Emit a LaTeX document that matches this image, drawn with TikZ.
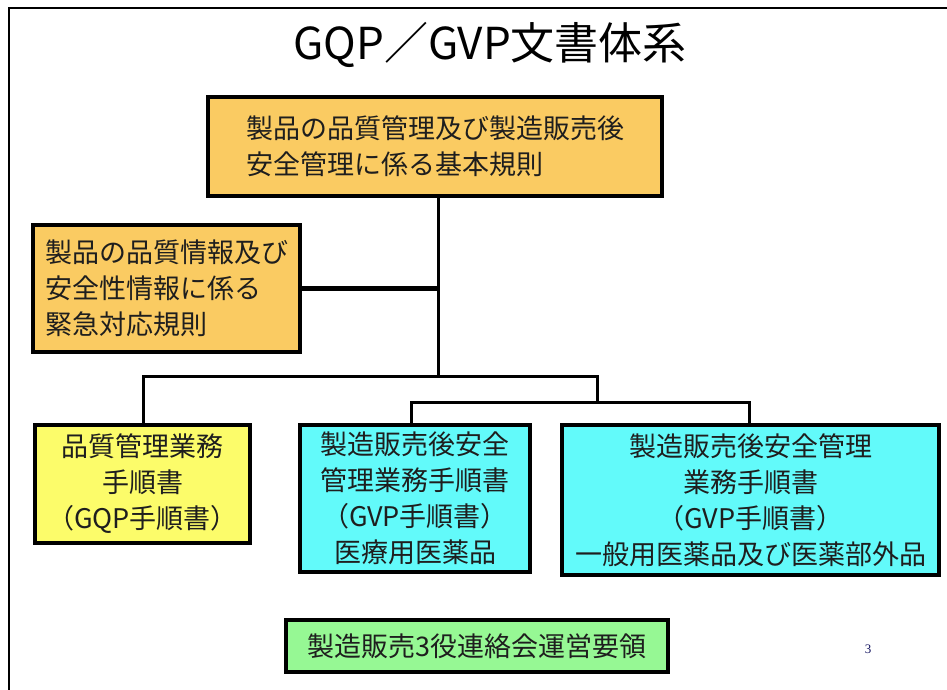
\documentclass[tikz,border=0pt]{standalone}
\usepackage{fontspec}
\setmainfont{Noto Sans CJK JP}
\newfontfamily\pagefont{Liberation Serif}
\definecolor{boxorange}{HTML}{FACB62}
\definecolor{boxyellow}{HTML}{FCFC6A}
\definecolor{boxcyan}{HTML}{62FAFA}
\definecolor{boxgreen}{HTML}{96F894}
\definecolor{txt}{HTML}{1E1E1E}
\tikzset{
  docbox/.style={draw=black, line width=4pt, rectangle, inner sep=0pt, text=txt,
    font=\fontsize{27}{36}\selectfont},
  link/.style={draw=black, line width=3pt},
  thicklink/.style={draw=black, line width=5pt}
}
\begin{document}
\begin{tikzpicture}[x=1pt,y=-1pt]
\useasboundingbox (0,0) rectangle (947,690);
\draw[line width=2pt] (947,8) -- (9,8) -- (9,690);
\node (title) at (490,45) {\fontsize{44}{48}\selectfont GQP／GVP文書体系};

\node[docbox, fill=boxorange, minimum width=454, minimum height=99, align=left]
  (top) at (435,146.5) {製品の品質管理及び製造販売後\\安全管理に係る基本規則};
\node[docbox, fill=boxorange, minimum width=267, minimum height=127, align=left]
  (left) at (166.5,288) {製品の品質情報及び\\安全性情報に係る\\緊急対応規則};
\node[docbox, fill=boxyellow, minimum width=215, minimum height=118, align=center]
  (yellow) at (142.5,484) {品質管理業務\\手順書\\（GQP手順書）};
\node[docbox, fill=boxcyan, minimum width=230, minimum height=147, align=center]
  (cyan1) at (415,498.5) {製造販売後安全\\管理業務手順書\\（GVP手順書）\\医療用医薬品};
\node[docbox, fill=boxcyan, minimum width=377, minimum height=150, align=center]
  (cyan2) at (750.5,500) {製造販売後安全管理\\業務手順書\\（GVP手順書）\\一般用医薬品及び医薬部外品};
\node[docbox, fill=boxgreen, minimum width=382, minimum height=52, align=center]
  (green) at (477,646) {製造販売3役連絡会運営要領};
\node[text=txt!70!blue, font=\pagefont\fontsize{13}{14}\selectfont] (page) at (868,649) {3};

\coordinate (v) at (438,376);
\coordinate (hl) at (143,376);
\coordinate (hr) at (597,376);
\coordinate (gm) at (597,402);
\coordinate (gl) at (411,402);
\coordinate (gr) at (749,402);

\draw[link] (top.south -| v) -- (v);
\draw[thicklink] (left.east) -- (left.east -| v);
\draw[link] (yellow.north -| hl) -- (hl) -- (hr) -- (gm);
\draw[link] (cyan1.north -| gl) -- (gl) -- (gr) -- (cyan2.north -| gr);
\end{tikzpicture}
\end{document}
